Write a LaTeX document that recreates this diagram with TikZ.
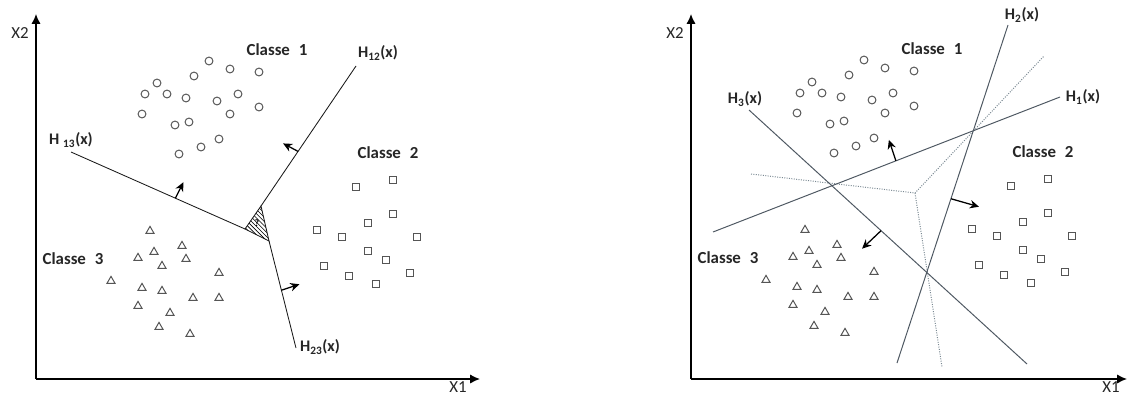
\documentclass[tikz,border=0pt]{standalone}
\usepackage{fontspec}
\setmainfont{Carlito}
\usetikzlibrary{arrows.meta, shapes.geometric, patterns, calc}
\definecolor{markgray}{RGB}{85,85,85}
\definecolor{hypgray}{RGB}{78,88,98}
\definecolor{oldgray}{RGB}{120,135,145}

% nuages de points des trois classes (#1 = prefixe des noms)
\newcommand{\classclouds}[1]{%
  \foreach \px/\py [count=\i] in {209/61, 230/69, 259/72, 194/76, 157/83, 145/94,
      167/94, 186/98, 217/101, 238/94, 259/107, 142/114, 230/114, 175/125,
      189/122, 219/139, 201/147, 179/154}
    \node[ring] (#1c\i) at (\px,\py) {};
  \foreach \px/\py [count=\i] in {356/187, 393/180, 393/214, 368/223, 317/230,
      342/237, 417/237, 368/251, 386/260, 324/266, 349/276, 376/284, 410/273}
    \node[cell] (#1s\i) at (\px,\py) {};
  \foreach \px/\py [count=\i] in {150/231, 182/246, 154/252, 138/258, 186/259,
      162/266, 111/281, 219/273, 142/288, 162/291, 193/298, 219/298, 138/306,
      170/313, 159/327, 190/334}
    \node[peak] (#1t\i) at (\px,\py) {};
  \node[classlabel] (#1k1) at (277,50) {Classe\hspace{0.3em} 1};
  \node[classlabel] (#1k2) at (388,153) {Classe\hspace{0.3em} 2};
  \node[classlabel] (#1k3) at (73,259) {Classe\hspace{0.3em} 3};
}

\begin{document}
\begin{tikzpicture}[
  x=0.025cm, y=-0.025cm,
  ring/.style={circle, draw=markgray, line width=0.7pt, minimum size=5.6pt, inner sep=0pt},
  cell/.style={rectangle, draw=markgray, line width=0.7pt, minimum size=5.4pt, inner sep=0pt},
  peak/.style={regular polygon, regular polygon sides=3, draw=markgray, line width=0.7pt,
    minimum size=6.6pt, inner sep=0pt},
  classlabel/.style={font=\fontsize{12}{14}\selectfont\bfseries, text=black!85},
  hlabel/.style={font=\fontsize{11.5}{14}\selectfont\bfseries, text=black!85},
  axislabel/.style={font=\fontsize{12}{14}\selectfont, text=black!85},
  axis/.style={line width=1pt, -{Latex[length=7pt,width=6.5pt]}},
  border/.style={line width=0.6pt, black!90},
  hyper/.style={line width=0.7pt, hypgray},
  oldborder/.style={line width=0.7pt, oldgray, densely dotted},
  normal/.style={line width=0.9pt, -{Stealth[length=6.5pt,width=6pt]}}
]
\useasboundingbox (0,0) rectangle (1128,396);

% ---------- panneau gauche : une contre une ----------
\coordinate (lo) at (36,379);
\coordinate (lx) at (480,379);
\coordinate (ly) at (36,14);
\draw[axis] (lo) -- (lx);
\draw[axis] (lo) -- (ly);
\node[axislabel] (lx2) at (20,33) {X2};
\node[axislabel] (lx1) at (458,387) {X1};

\classclouds{L}

% frontieres et zone ambigue
\coordinate (p12) at (356,66);
\coordinate (p13) at (71,152);
\coordinate (p23) at (296,348);
\coordinate (ta) at (245,229);
\coordinate (tb) at (261,206);
\coordinate (tc) at (269,241);
\draw[border] (p13) -- (ta);
\draw[border] (tb) -- (p12);
\draw[border] (tc) -- (p23);
\draw[border, pattern=north west lines] (ta) -- (tb) -- (tc) -- cycle;
\node[font=\fontsize{7}{7}\selectfont\bfseries, inner sep=0pt] (qm) at (257,223) {?};

\node[hlabel] (lh12) at (378,53) {H\textsubscript{12}(x)};
\node[hlabel] (lh13) at (71,140) {H \textsubscript{13}(x)};
\node[hlabel] (lh23) at (320,347) {H\textsubscript{23}(x)};

% normales
\coordinate (n13) at ($(p13)!0.6!(ta)$);
\coordinate (n12) at ($(tb)!0.39!(p12)$);
\coordinate (n23) at ($(tc)!0.46!(p23)$);
\draw[normal] (n13) -- ++(8,-16);
\draw[normal] (n12) -- ++(-15,-8);
\draw[normal] (n23) -- ++(18,-6);

% ---------- panneau droit : une contre toutes ----------
\coordinate (ro) at (691,379);
\coordinate (rx) at (1127,379);
\coordinate (ry) at (691,14);
\draw[axis] (ro) -- (rx);
\draw[axis] (ro) -- (ry);
\node[axislabel] (rx2) at (675,33) {X2};
\node[axislabel] (rx1) at (1111,387) {X1};

\begin{scope}[shift={(655,-1)}]
  \classclouds{R}
\end{scope}

% anciennes frontieres (pointillees)
\coordinate (dj) at (915,193);
\coordinate (da) at (751,174);
\coordinate (db) at (1044,56);
\coordinate (dc) at (942,367);
\draw[oldborder] (da) -- (dj) -- (db);
\draw[oldborder] (dj) -- (dc);

% hyperplans
\coordinate (h1a) at (713,232);
\coordinate (h1b) at (1060,97);
\coordinate (h2a) at (897,363);
\coordinate (h2b) at (1008,25);
\coordinate (h3a) at (749,110);
\coordinate (h3b) at (1027,364);
\draw[hyper] (h1a) -- (h1b);
\draw[hyper] (h2a) -- (h2b);
\draw[hyper] (h3a) -- (h3b);

\node[hlabel] (rh1) at (1083,97) {H\textsubscript{1}(x)};
\node[hlabel] (rh2) at (1022,15) {H\textsubscript{2}(x)};
\node[hlabel] (rh3) at (745,99) {H\textsubscript{3}(x)};

% normales
\coordinate (m1) at ($(h1a)!0.527!(h1b)$);
\coordinate (m2) at ($(h2a)!0.486!(h2b)$);
\coordinate (m3) at ($(h3a)!0.475!(h3b)$);
\draw[normal] (m1) -- ++(-7,-21);
\draw[normal] (m2) -- ++(28,8);
\draw[normal] (m3) -- ++(-19,18);

\end{tikzpicture}
\end{document}
